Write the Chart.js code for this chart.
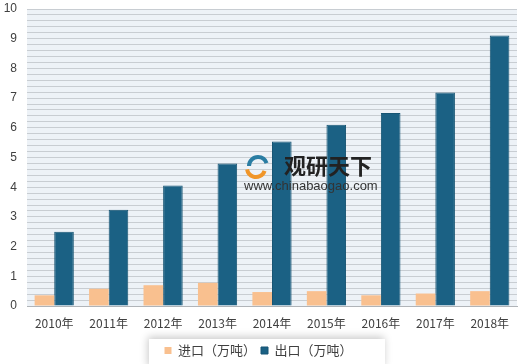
<!DOCTYPE html>
<html>
<head>
<meta charset="utf-8">
<script src="https://cdn.jsdelivr.net/npm/chart.js@4"></script>
<style>
  html, body { margin: 0; padding: 0; background: #fff; }
  #wrap { width: 520px; height: 364px; position: relative; }
</style>
</head>
<body>
<div id="wrap"><canvas id="barChart"></canvas></div>
<script>
// 年份和进出口数据（万吨）
const years = ['2010年', '2011年', '2012年', '2013年', '2014年', '2015年', '2016年', '2017年', '2018年'];
const importVals = [0.36, 0.58, 0.70, 0.78, 0.47, 0.50, 0.36, 0.42, 0.50];
const exportVals = [2.50, 3.24, 4.06, 4.80, 5.54, 6.10, 6.50, 7.19, 9.11];
const seriesNames = ['进口（万吨）', '出口（万吨）'];

// 绘图区背景 + 图例底框 + 水印
const plotBg = {
  id: 'plotBg',
  beforeDraw(chart) {
    const { ctx, chartArea: a } = chart;
    ctx.save();
    ctx.fillStyle = '#edf2f7';
    ctx.fillRect(a.left, a.top, a.right - a.left, a.bottom - a.top);
    // 图例白框阴影
    ctx.shadowColor = 'rgba(0,0,0,0.22)';
    ctx.shadowBlur = 8;
    ctx.shadowOffsetX = -1;
    ctx.shadowOffsetY = -2;
    ctx.fillStyle = '#fff';
    ctx.fillRect(149, 339, 236, 30);
    ctx.restore();
  },
  afterDatasetsDraw(chart) {
    const ctx = chart.ctx;
    ctx.save();
    // logo 简化画法
    ctx.lineWidth = 4;
    ctx.strokeStyle = '#2a7da3';
    ctx.beginPath();
    ctx.arc(258, 166, 9, Math.PI * 1.0, Math.PI * 1.9);
    ctx.stroke();
    ctx.strokeStyle = '#f0962a';
    ctx.beginPath();
    ctx.arc(256, 168, 9, Math.PI * 0.1, Math.PI * 0.95);
    ctx.stroke();
    ctx.fillStyle = '#222';
    ctx.font = 'bold 22px "Noto Sans CJK SC"';
    ctx.textBaseline = 'middle';
    ctx.fillText('观研天下', 284, 166);
    ctx.fillStyle = '#333';
    ctx.font = '13px "Liberation Sans"';
    ctx.fillText('www.chinabaogao.com', 244, 186);
    ctx.restore();
  }
};

new Chart(document.getElementById('barChart').getContext('2d'), {
  type: 'bar',
  data: {
    labels: years,
    datasets: [{
      label: seriesNames[0],
      data: importVals,
      backgroundColor: '#f9c08f',
      categoryPercentage: 0.72,
      barPercentage: 1.0
    }, {
      label: seriesNames[1],
      data: exportVals,
      backgroundColor: '#1b6184',
      borderColor: '#175574',
      borderWidth: 1,
      categoryPercentage: 0.72,
      barPercentage: 1.0
    }]
  },
  options: {
    responsive: true,
    maintainAspectRatio: false,
    animation: false,
    layout: { padding: { top: 9, right: 3, left: 0, bottom: -3 } },
    plugins: {
      tooltip: { enabled: false },
      legend: {
        position: 'bottom',
        labels: {
          boxWidth: 7,
          boxHeight: 7,
          padding: 5,
          color: '#404040',
          font: { size: 13, family: '"Noto Sans CJK SC"' }
        }
      }
    },
    scales: {
      x: {
        grid: { display: false },
        border: { color: '#b0b4b8' },
        afterFit(scale) { scale.height = 33; },
        ticks: {
          color: '#404040',
          padding: 2,
          font: { size: 12, family: '"Noto Sans CJK SC"' }
        }
      },
      y: {
        min: 0,
        max: 10,
        afterFit(scale) {
          scale.width = 27;
          scale.paddingTop = 0;
          scale.paddingBottom = 0;
        },
        border: { display: false },
        grid: { color: '#c8cdd2', lineWidth: 1, drawTicks: false },
        ticks: {
          stepSize: 0.2,
          autoSkip: false,
          padding: 10,
          color: '#404040',
          font: { size: 12, family: '"Liberation Sans"' },
          callback(v) {
            const r = Math.round(v);
            return Math.abs(v - r) < 1e-6 ? String(r) : '';
          }
        }
      }
    }
  },
  plugins: [plotBg]
});
</script>
</body>
</html>
